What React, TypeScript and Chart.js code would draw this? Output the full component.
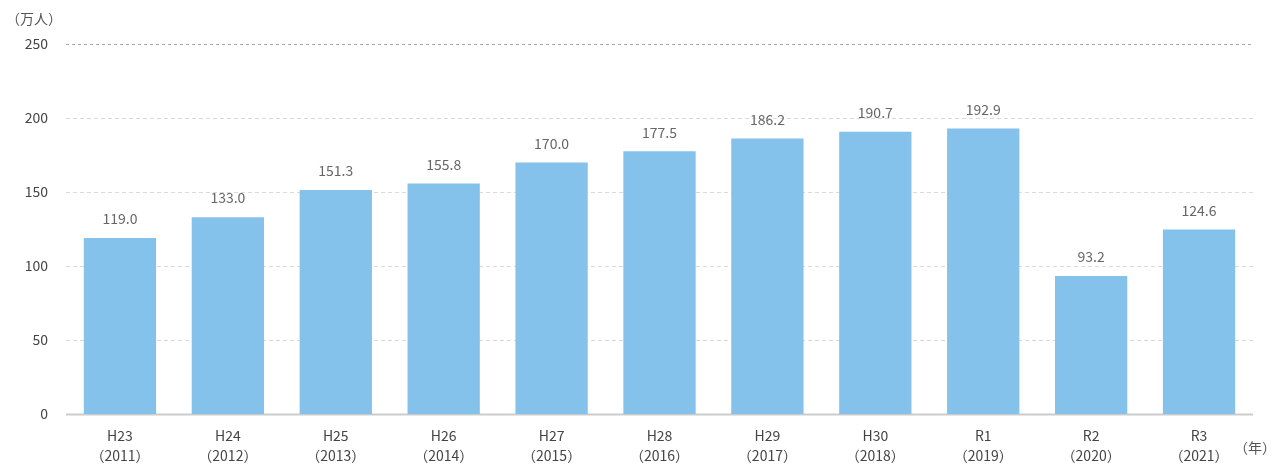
import React, { useEffect, useRef } from "react";
import { Chart, registerables } from "chart.js";

Chart.register(...registerables);

const categories: string[][] = [
  ["H23", "（2011）"],
  ["H24", "（2012）"],
  ["H25", "（2013）"],
  ["H26", "（2014）"],
  ["H27", "（2015）"],
  ["H28", "（2016）"],
  ["H29", "（2017）"],
  ["H30", "（2018）"],
  ["R1", "（2019）"],
  ["R2", "（2020）"],
  ["R3", "（2021）"],
];
const visitors: number[] = [119.0, 133.0, 151.3, 155.8, 170.0, 177.5, 186.2, 190.7, 192.9, 93.2, 124.6];
const yTicks: number[] = [0, 50, 100, 150, 200, 250];
const yUnit = "（万人）";
const xUnit = "（年）";

const FONT = "'Noto Sans CJK JP', 'Noto Sans', sans-serif";

export default function App() {
  const ref = useRef<HTMLCanvasElement | null>(null);
  useEffect(() => {
    if (!ref.current) return;
    const extras = {
      id: "extras",
      beforeDatasetsDraw(chart: any) {
        const { ctx, chartArea, scales } = chart;
        const y = scales.y;
        ctx.save();
        yTicks.forEach((t) => {
          const py = Math.round(y.getPixelForValue(t)) + 0.5;
          ctx.beginPath();
          if (t === 0) {
            ctx.setLineDash([]);
            ctx.strokeStyle = "#cccccc";
            ctx.lineWidth = 2;
          } else if (t === 250) {
            ctx.setLineDash([3, 3]);
            ctx.strokeStyle = "#a8a8a8";
            ctx.lineWidth = 1;
          } else {
            ctx.setLineDash([4, 3]);
            ctx.strokeStyle = "#dadada";
            ctx.lineWidth = 1;
          }
          ctx.moveTo(chartArea.left, py);
          ctx.lineTo(chartArea.right, py);
          ctx.stroke();
        });
        ctx.restore();
      },
      afterDatasetsDraw(chart: any) {
        const { ctx } = chart;
        const meta = chart.getDatasetMeta(0);
        ctx.save();
        ctx.font = `14px ${FONT}`;
        ctx.fillStyle = "#666";
        ctx.textAlign = "center";
        ctx.textBaseline = "middle";
        meta.data.forEach((bar: any, i: number) => {
          ctx.fillText(visitors[i].toFixed(1), bar.x, bar.y - 19);
        });
        ctx.font = `14px ${FONT}`;
        ctx.fillStyle = "#555";
        ctx.textAlign = "left";
        ctx.textBaseline = "middle";
        ctx.fillText(yUnit, 6, 19);
        ctx.fillText(xUnit, 1234, 448);
        ctx.restore();
      },
    };
    const chart = new Chart(ref.current, {
      type: "bar",
      data: {
        labels: categories,
        datasets: [
          {
            data: visitors,
            backgroundColor: "#84C2EC",
            borderWidth: 0,
            barPercentage: 0.67,
            categoryPercentage: 1,
          },
        ],
      },
      options: {
        responsive: false,
        animation: false,
        layout: { padding: { top: 44, right: 20, left: 0, bottom: 0 } },
        plugins: { legend: { display: false }, tooltip: { enabled: false } },
        scales: {
          x: {
            grid: { display: false },
            border: { display: false },
            ticks: {
              color: "#444",
              font: { family: FONT, size: 14, lineHeight: 1.4 },
              padding: 4,
              maxRotation: 0,
              autoSkip: false,
            },
            afterFit: (s: any) => {
              s.height = 50;
            },
          },
          y: {
            min: 0,
            max: 250,
            grid: { display: false, drawTicks: false },
            border: { display: false },
            ticks: {
              stepSize: 50,
              color: "#444",
              font: { family: FONT, size: 14 },
              padding: 18,
            },
            afterFit: (s: any) => {
              s.width = 66;
            },
          },
        },
      },
      plugins: [extras],
    } as any);
    return () => chart.destroy();
  }, []);
  return (
    <div style={{ position: "fixed", left: 0, top: 0, width: 1273, height: 464, background: "#fff" }}>
      <canvas ref={ref} width={1273} height={464} />
    </div>
  );
}
